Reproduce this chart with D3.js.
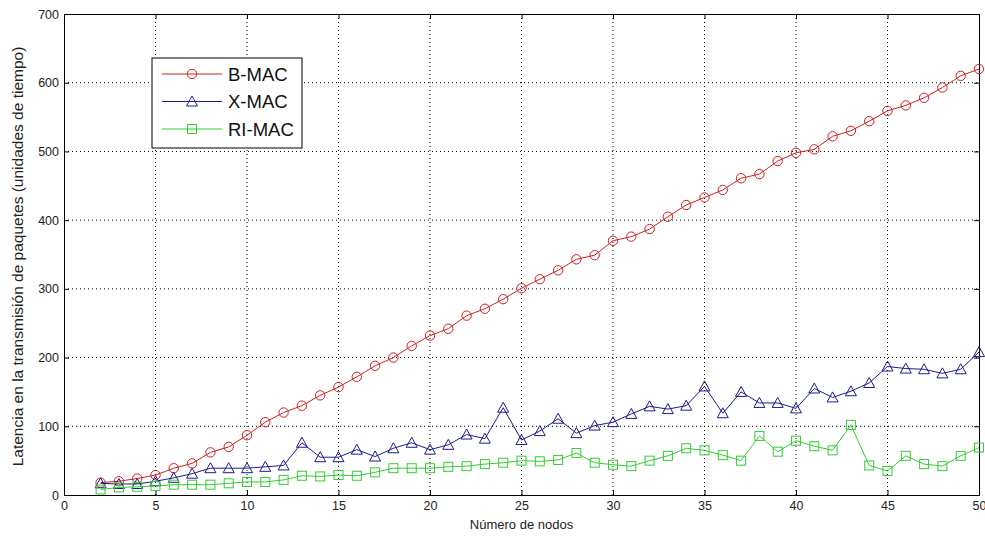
<!DOCTYPE html>
<html><head><meta charset="utf-8">
<script src="https://cdn.jsdelivr.net/npm/d3@7"></script>
<style>body{margin:0;background:#fff;}svg{display:block;font-family:"Liberation Sans",Arial,sans-serif;}</style>
</head><body>
<svg id="c" width="985" height="537"></svg>
<script>
const nodes = d3.range(2, 51);
const bmac = [18,20,24,29,39,46,62,70,87,106,120,130,145,157,172,188,200,217,232,242,261,271,285,301,314,327,343,349,370,376,387,405,422,433,444,461,467,486,498,503,522,530,544,559,567,578,593,610,620];
const xmac = [17,16,16,20,25,31,39,39,39,41,43,76,55,55,66,56,68,76,66,73,88,82,127,80,93,111,90,101,106,118,129,125,130,158,119,150,134,134,126,155,142,151,163,187,184,183,177,183,208];
const rimac = [8,11,12,13,15,15,15,17,19,19,22,28,27,29,28,33,39,39,39,41,42,45,47,50,49,51,61,47,44,42,50,57,68,65,58,50,86,63,79,71,65,102,43,35,57,45,42,57,69];
const seriesNames = ["B-MAC","X-MAC","RI-MAC"];
const xTicks = [0,5,10,15,20,25,30,35,40,45,50];
const yTicks = [0,100,200,300,400,500,600,700];
const xLabel = "Número de nodos";
const yLabel = "Latencia en la transmisión de paquetes (unidades de tiempo)";

const svg = d3.select("#c");
const L = 64, R = 979, T = 14, B = 495;
const x = d3.scaleLinear().domain([0,50]).range([L,R]);
const y = d3.scaleLinear().domain([0,700]).range([B,T]);

// grid
const g = svg.append("g");
g.selectAll(".gx").data(xTicks.slice(1,-1)).enter().append("line")
 .attr("x1",d=>x(d)).attr("x2",d=>x(d)).attr("y1",T).attr("y2",B)
 .attr("stroke","#000").attr("stroke-width",1).attr("stroke-dasharray","1,3");
g.selectAll(".gy").data(yTicks.slice(1,-1)).enter().append("line")
 .attr("y1",d=>y(d)).attr("y2",d=>y(d)).attr("x1",L).attr("x2",R)
 .attr("stroke","#000").attr("stroke-width",1).attr("stroke-dasharray","1,3");

// axes
const fs = "12.5px";
const axB = svg.append("g").attr("transform",`translate(0,${B})`)
 .call(d3.axisBottom(x).tickValues(xTicks).tickSize(-5).tickPadding(6));
const axL = svg.append("g").attr("transform",`translate(${L},0)`)
 .call(d3.axisLeft(y).tickValues(yTicks).tickSize(-5).tickPadding(5));
const axT = svg.append("g").attr("transform",`translate(0,${T})`)
 .call(d3.axisTop(x).tickValues(xTicks).tickSize(-5).tickFormat(""));
const axR = svg.append("g").attr("transform",`translate(${R},0)`)
 .call(d3.axisRight(y).tickValues(yTicks).tickSize(-5).tickFormat(""));
[axB,axL,axT,axR].forEach(a=>{
  a.select(".domain").attr("stroke","#000");
  a.selectAll(".tick line").attr("stroke","#000");
  a.selectAll("text").attr("font-size",fs).attr("fill","#222").attr("font-family","Liberation Sans, Arial, sans-serif");
});

const data = [
  {name:seriesNames[0], vals:bmac, color:"#cc2020", shape:"circle"},
  {name:seriesNames[1], vals:xmac, color:"#1c1c8c", shape:"tri"},
  {name:seriesNames[2], vals:rimac, color:"#33cc33", shape:"square"}
];
const line = d3.line().x((d,i)=>x(nodes[i])).y(d=>y(d));

function marker(sel, shape, color){
  if(shape==="circle") sel.append("circle").attr("r",4.7).attr("fill","none").attr("stroke",color).attr("stroke-width",1);
  else if(shape==="tri") sel.append("path").attr("d","M0,-5.5L5.5,4.5L-5.5,4.5Z").attr("fill","none").attr("stroke",color).attr("stroke-width",1);
  else sel.append("rect").attr("x",-4.5).attr("y",-4.5).attr("width",9).attr("height",9).attr("fill","none").attr("stroke",color).attr("stroke-width",1);
}

data.forEach(s=>{
  svg.append("path").datum(s.vals).attr("d",line).attr("fill","none").attr("stroke",s.color).attr("stroke-width",1);
  svg.append("g").selectAll("g").data(s.vals).enter().append("g")
   .attr("transform",(d,i)=>`translate(${x(nodes[i])},${y(d)})`)
   .each(function(){ marker(d3.select(this), s.shape, s.color); });
});

// legend
const lg = svg.append("g");
lg.append("rect").attr("x",152).attr("y",58).attr("width",150).attr("height",90).attr("fill","#fff").attr("stroke","#000").attr("stroke-width",1);
data.forEach((s,i)=>{
  const yy = 74 + i*27.5;
  lg.append("line").attr("x1",162).attr("x2",222).attr("y1",yy).attr("y2",yy).attr("stroke",s.color);
  marker(lg.append("g").attr("transform",`translate(192,${yy})`), s.shape, s.color);
  lg.append("text").attr("x",228).attr("y",yy+6.5).attr("font-size","18.5px").attr("fill","#111").text(s.name);
});

// labels
svg.append("text").attr("x",(L+R)/2).attr("y",529).attr("text-anchor","middle").attr("font-size","13px").attr("fill","#222").text(xLabel);
svg.append("text").attr("transform",`translate(23,${(T+B)/2 + 2}) rotate(-90)`).attr("text-anchor","middle").attr("font-size","15.5px").attr("fill","#222").text(yLabel);
</script>
</body></html>
